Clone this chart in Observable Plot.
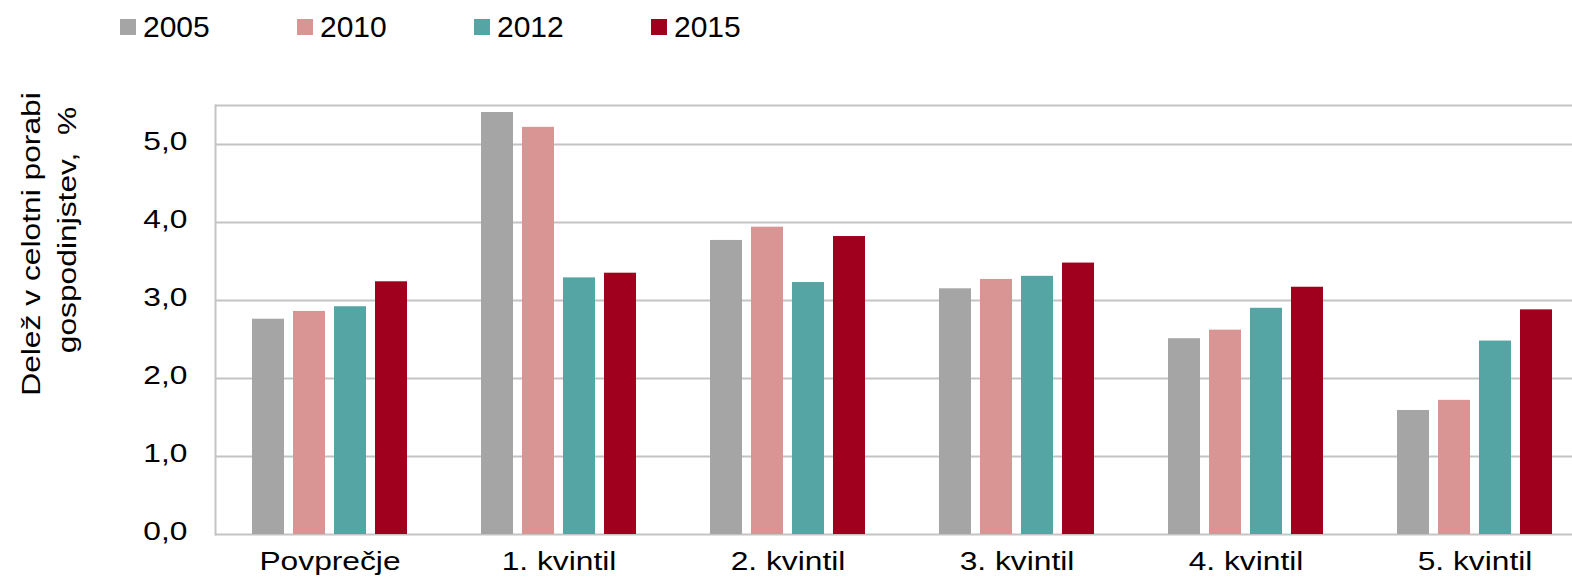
<!DOCTYPE html>
<html>
<head>
<meta charset="utf-8">
<script src="https://cdn.jsdelivr.net/npm/d3@7"></script>
<script src="https://cdn.jsdelivr.net/npm/@observablehq/plot@0.6"></script>
<style>
  html, body { margin: 0; padding: 0; background: #fff; }
  body { width: 1572px; height: 580px; position: relative; overflow: hidden; font-family: "Liberation Sans", Arial, sans-serif; }
  #legend { position: relative; height: 60px; }
  .item { position: absolute; top: 0; height: 60px; }
  .sw { position: absolute; left: 0; top: 19px; width: 16px; height: 16px; }
  .lab { position: absolute; left: 23px; top: 10px; font-size: 30px; line-height: 34px; color: #000; }
  .ylab { position: absolute; font-size: 25px; line-height: 1; white-space: pre; color: #000;
          transform: translate(-50%, -50%) rotate(-90deg) scaleX(1.27); }
</style>
</head>
<body>
<div id="legend"></div>
<div id="chart"></div>
<div class="ylab" style="left:31px; top:244px;">Delež v celotni porabi</div>
<div class="ylab" style="left:67px; top:230px;">gospodinjstev,  %</div>
<script>
const categories = ["Povprečje", "1. kvintil", "2. kvintil", "3. kvintil", "4. kvintil", "5. kvintil"];
const years = ["2005", "2010", "2012", "2015"];
const v2005 = [2.76, 5.41, 3.77, 3.15, 2.51, 1.59];
const v2010 = [2.86, 5.22, 3.94, 3.27, 2.62, 1.72];
const v2012 = [2.92, 3.29, 3.23, 3.31, 2.90, 2.48];
const v2015 = [3.24, 3.35, 3.82, 3.48, 3.17, 2.88];
const colors = ["#a5a5a5", "#d99594", "#55a5a5", "#a0001e"];
const yTicks = [0, 1, 2, 3, 4, 5];
const yMax = 5.5;

const series = [v2005, v2010, v2012, v2015];
const data = [];
categories.forEach((c, i) => years.forEach((y, j) => data.push({cat: c, year: y, value: series[j][i]})));

// legend
const legend = document.getElementById("legend");
years.forEach((y, j) => {
  const it = document.createElement("div");
  it.className = "item";
  it.style.left = (120 + 177 * j) + "px";
  it.innerHTML = `<div class="sw" style="background:${colors[j]}"></div><div class="lab">${y}</div>`;
  legend.appendChild(it);
});

const fmt = d => d.toFixed(1).replace(".", ",");
const grid = "#c4c4c4";

const chart = Plot.plot({
  width: 1572,
  height: 520,
  marginTop: 45,
  marginBottom: 46,
  marginLeft: 213,
  marginRight: -18,
  style: {fontFamily: "'Liberation Sans', Arial, sans-serif", fontSize: "25px", color: "#000", background: "transparent"},
  fx: {domain: categories, padding: 0, label: null},
  x: {domain: years, axis: null, paddingInner: 0.21, paddingOuter: 0.858},
  y: {domain: [0, yMax], label: null},
  color: {domain: years, range: colors},
  marks: [
    Plot.ruleY([...yTicks, yMax], {stroke: grid, strokeWidth: 2}),
    Plot.frame({anchor: "left", facetAnchor: "left", stroke: grid, strokeWidth: 2}),
    Plot.barY(data, {fx: "cat", x: "year", y: "value", fill: "year"}),
    Plot.axisY({ticks: yTicks, tickFormat: fmt, tickSize: 0, tickPadding: 28, fontSize: 25, label: null, fill: "#000", dy: 5}),
    Plot.axisFx({anchor: "bottom", tickSize: 0, tickPadding: 19, fontSize: 25, label: null, fill: "#000", dy: 16})
  ]
});
document.getElementById("chart").appendChild(chart);

// widen tick labels horizontally as in the reference
d3.select(chart).selectAll("g[aria-label$='tick label'] text").each(function () {
  const el = d3.select(this);
  const x = +el.attr("x") || 0, y = +el.attr("y") || 0;
  const t = el.attr("transform") || "";
  el.attr("x", null).attr("y", null).attr("transform", `${t} translate(${x},${y}) scale(1.27,1)`);
});
</script>
</body>
</html>
